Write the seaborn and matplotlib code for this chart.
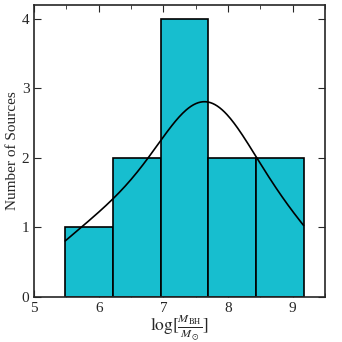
import numpy as np
import pandas as pd
import seaborn as sns
import matplotlib
matplotlib.use("Agg")
import matplotlib.pyplot as plt
from matplotlib.ticker import MultipleLocator

# log black hole masses of the sources
log_mbh = [5.48, 6.25, 6.6, 7.15, 7.5, 7.62, 7.68, 7.8, 8.1, 8.65, 9.17]

sns.set_style("ticks")
plt.rcParams['font.family'] = ['Liberation Serif', 'DejaVu Serif']
plt.rcParams['mathtext.fontset'] = 'stix'
plt.rcParams['xtick.direction'] = 'in'
plt.rcParams['ytick.direction'] = 'in'

df = pd.DataFrame({'logM': log_mbh})

fig, ax = plt.subplots(figsize=(3.42, 3.42), dpi=100)
sns.histplot(data=df, x='logM', bins=5, kde=True, color='#17becf', alpha=1,
             edgecolor='black', linewidth=1.2, line_kws={'color': 'black', 'lw': 1.2}, ax=ax)
ax.lines[0].set_color('black')

ax.set_xlim(5, 9.5)
ax.set_ylim(0, 4.2)
ax.xaxis.set_major_locator(MultipleLocator(1))
ax.xaxis.set_minor_locator(MultipleLocator(0.5))
ax.yaxis.set_major_locator(MultipleLocator(1))
ax.tick_params(which='both', top=True, right=True, labelsize=11)
ax.tick_params(which='major', length=5)
ax.tick_params(which='minor', length=3)
for s in ax.spines.values():
    s.set_linewidth(1.2)

ax.set_xlabel(r'$\log[\frac{M_{\rm BH}}{M_{\odot}}]$', fontsize=12.5, labelpad=-1)
ax.set_ylabel('Number of Sources', fontsize=11, labelpad=2)

plt.subplots_adjust(left=0.1, right=0.95, top=0.985, bottom=0.132)
plt.savefig('out.png', dpi=100)
